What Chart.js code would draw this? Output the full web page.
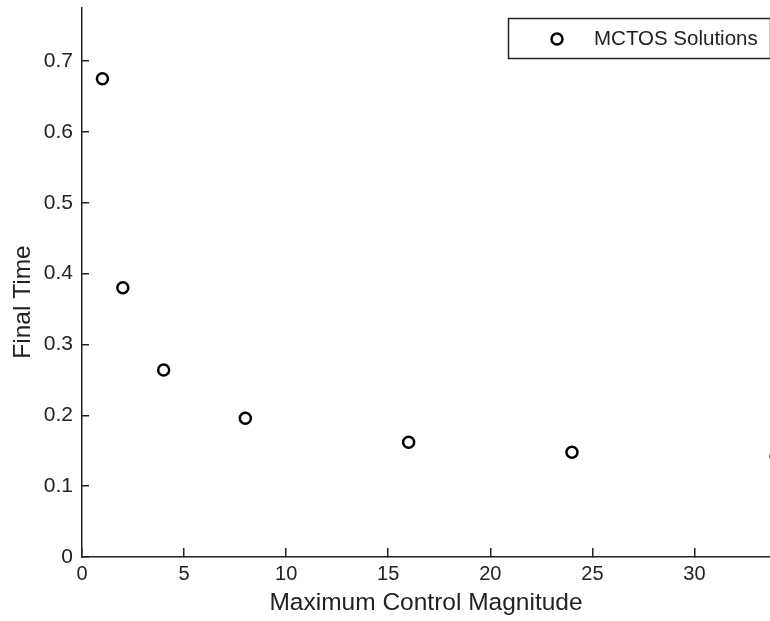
<!DOCTYPE html>
<html>
<head>
<meta charset="utf-8">
<script src="https://cdn.jsdelivr.net/npm/chart.js@4.4.0/dist/chart.umd.min.js"></script>
<style>
  html, body { margin: 0; padding: 0; background: #fff; }
  #wrap { width: 770px; height: 621px; }
</style>
</head>
<body>
<div id="wrap"><canvas id="scatterChart" width="770" height="621"></canvas></div>
<script>
// data
const controlMagnitude = [1, 2, 4, 8, 16, 24, 34];
const finalTime = [0.675, 0.38, 0.264, 0.196, 0.162, 0.148, 0.142];
const xTickValues = [0, 5, 10, 15, 20, 25, 30];
const yTickValues = [0, 0.1, 0.2, 0.3, 0.4, 0.5, 0.6, 0.7];

const FONT = "'Liberation Sans', Arial, sans-serif";
const INK = "#222";

// no extra room for overhanging tick labels, plot box is fixed
function noPadding(scale) {
  scale.paddingTop = 0;
  scale.paddingBottom = 0;
  scale.paddingLeft = 0;
  scale.paddingRight = 0;
}

// MATLAB-like boxed legend in the top right corner
const boxLegend = {
  id: "boxLegend",
  afterDraw(chart) {
    const ctx = chart.ctx;
    const ds = chart.data.datasets[0];
    ctx.save();
    ctx.fillStyle = "#fff";
    ctx.fillRect(508, 18, 262, 40);
    ctx.strokeStyle = INK;
    ctx.lineWidth = 1.5;
    ctx.strokeRect(508.5, 18.5, 262, 40);
    ctx.beginPath();
    ctx.arc(557, 39, 5.5, 0, Math.PI * 2);
    ctx.lineWidth = 2.5;
    ctx.strokeStyle = "#000";
    ctx.stroke();
    ctx.fillStyle = INK;
    ctx.font = "20.5px " + FONT;
    ctx.textBaseline = "middle";
    ctx.fillText(ds.label, 594, 39);
    ctx.restore();
  },
};

// y title sits a bit below the middle of the axis in the reference
const yTitle = {
  id: "yTitle",
  afterDraw(chart) {
    const ctx = chart.ctx;
    ctx.save();
    ctx.translate(23, 302);
    ctx.rotate(-Math.PI / 2);
    ctx.fillStyle = INK;
    ctx.font = "24.5px " + FONT;
    ctx.textAlign = "center";
    ctx.textBaseline = "middle";
    ctx.fillText("Final Time", 0, 0);
    ctx.restore();
  },
};

new Chart("scatterChart", {
  type: "scatter",
  data: {
    datasets: [
      {
        label: "MCTOS Solutions",
        data: controlMagnitude.map((x, i) => ({ x: x, y: finalTime[i] })),
        borderColor: "#000",
        backgroundColor: "rgba(255,255,255,0)",
        pointRadius: 5.5,
        pointHoverRadius: 5.5,
        borderWidth: 2.5,
        clip: false,
      },
    ],
  },
  options: {
    responsive: false,
    animation: false,
    layout: { autoPadding: false, padding: { top: 8, right: 0, bottom: 0, left: 0 } },
    plugins: {
      legend: { display: false },
      tooltip: { enabled: false },
    },
    scales: {
      x: {
        type: "linear",
        min: 0,
        max: 33.7,
        afterBuildTicks: (scale) => {
          scale.ticks = xTickValues.map((v) => ({ value: v }));
        },
        afterFit: (scale) => {
          scale.height = 64;
          noPadding(scale);
        },
        border: { color: INK, width: 1.5 },
        grid: {
          drawOnChartArea: false,
          drawTicks: true,
          tickLength: -9,
          color: INK,
          lineWidth: 1.5,
        },
        ticks: {
          color: INK,
          padding: 14,
          maxRotation: 0,
          font: { family: FONT, size: 20 },
        },
        title: {
          display: true,
          text: "Maximum Control Magnitude",
          color: INK,
          padding: { top: 0, bottom: 3 },
          font: { family: FONT, size: 24.5 },
        },
      },
      y: {
        type: "linear",
        min: 0,
        max: 0.775,
        afterBuildTicks: (scale) => {
          scale.ticks = yTickValues.map((v) => ({ value: v }));
        },
        afterFit: (scale) => {
          scale.width = 82;
          noPadding(scale);
        },
        border: { color: INK, width: 1.5 },
        grid: {
          drawOnChartArea: false,
          drawTicks: true,
          tickLength: -7,
          color: INK,
          lineWidth: 1.5,
        },
        ticks: {
          color: INK,
          padding: 16,
          font: { family: FONT, size: 21 },
          callback: (v) => String(Math.round(v * 10) / 10),
        },
      },
    },
  },
  plugins: [boxLegend, yTitle],
});
</script>
</body>
</html>
